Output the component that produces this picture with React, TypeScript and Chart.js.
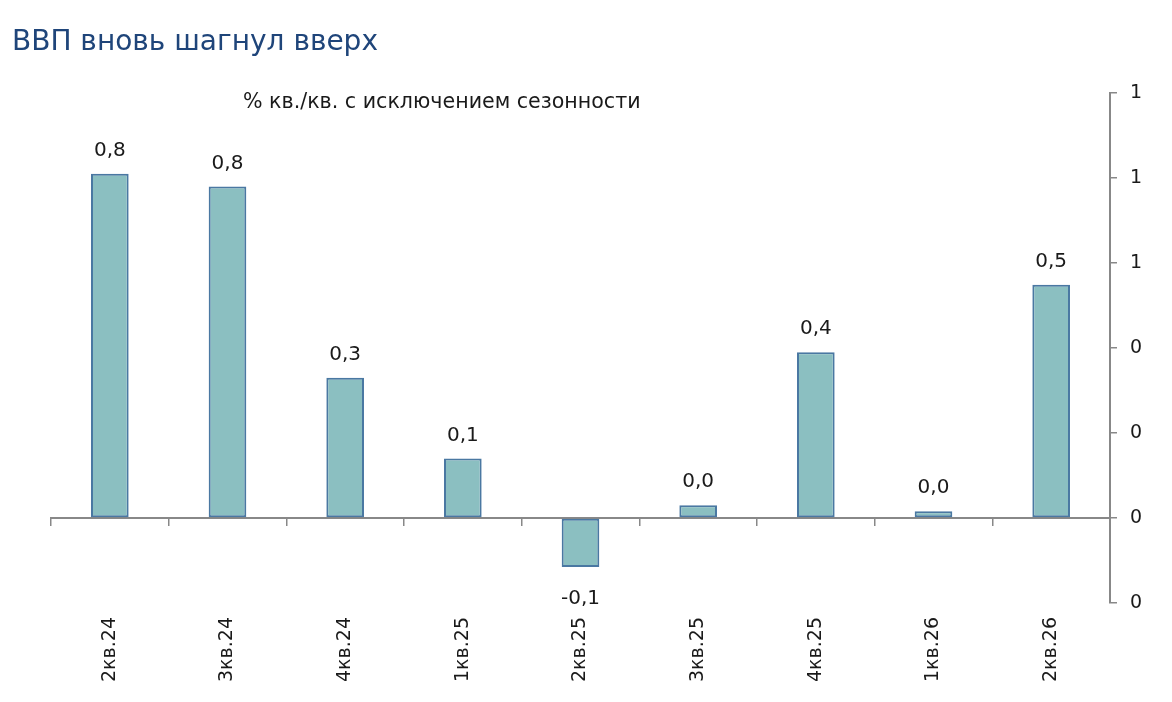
import { useEffect, useRef } from 'react';
import { Chart, registerables } from 'chart.js';

Chart.register(...registerables);

const quarters = ['2кв.24', '3кв.24', '4кв.24', '1кв.25', '2кв.25', '3кв.25', '4кв.25', '1кв.26', '2кв.26'];
const gdpGrowth = [0.81, 0.78, 0.33, 0.14, -0.115, 0.03, 0.39, 0.016, 0.549];
const yTicks = [-0.2, 0, 0.2, 0.4, 0.6, 0.8, 1.0];
const yTickLabels = ['0', '0', '0', '0', '1', '1', '1'];

const title = 'ВВП вновь шагнул вверх';
const subtitle = '% кв./кв. с исключением сезонности';

const FONT = '"DejaVu Sans", sans-serif';
const AXIS_GRAY = '#888888';
const TEXT = '#1a1a1a';

// heading + units line, drawn on the canvas
const headings = {
  id: 'headings',
  afterDraw(chart: Chart) {
    const { ctx, chartArea } = chart;
    ctx.save();
    ctx.textAlign = 'left';
    ctx.textBaseline = 'alphabetic';
    ctx.fillStyle = '#1f457a';
    ctx.font = `28px ${FONT}`;
    ctx.fillText(title, 4, 42);
    ctx.fillStyle = TEXT;
    ctx.font = `20.6px ${FONT}`;
    ctx.fillText(subtitle, chartArea.left + 192, chartArea.top + 15);
    ctx.restore();
  },
};

// value labels above (or below) each bar
const valueLabels = {
  id: 'valueLabels',
  afterDatasetsDraw(chart: Chart) {
    const { ctx } = chart;
    const meta = chart.getDatasetMeta(0);
    ctx.save();
    ctx.font = `20px ${FONT}`;
    ctx.fillStyle = TEXT;
    ctx.textAlign = 'center';
    ctx.textBaseline = 'alphabetic';
    meta.data.forEach((bar, i) => {
      const v = gdpGrowth[i];
      const { x, y } = bar.getProps(['x', 'y'], true);
      const ty = v >= 0 ? y - 18 : y + 37;
      ctx.fillText(v.toFixed(1).replace('.', ','), x, ty);
    });
    ctx.restore();
  },
};

export default function App() {
  const canvasRef = useRef<HTMLCanvasElement | null>(null);

  useEffect(() => {
    if (!canvasRef.current) return;

    const chart = new Chart(canvasRef.current, {
      type: 'bar',
      data: {
        labels: quarters,
        datasets: [
          {
            data: gdpGrowth,
            backgroundColor: '#8bbfc1',
            borderColor: '#4a78a2',
            borderWidth: 2,
            borderSkipped: false,
            barPercentage: 0.32,
            categoryPercentage: 1,
          },
        ],
      },
      options: {
        animation: false,
        responsive: true,
        maintainAspectRatio: false,
        layout: { padding: { left: 43, top: 85, right: 0, bottom: 0 } },
        plugins: {
          legend: { display: false },
          tooltip: { enabled: false },
        },
        scales: {
          x: {
            position: 'bottom',
            grid: { display: false, drawTicks: false },
            border: { display: false },
            ticks: {
              autoSkip: false,
              minRotation: 90,
              maxRotation: 90,
              padding: 14,
              color: TEXT,
              font: { family: FONT, size: 19 },
            },
            afterFit: (scale) => {
              scale.height = 91;
            },
          },
          // zero line with category separators
          x0: {
            type: 'category',
            position: { y: 0 },
            offset: true,
            grid: {
              offset: true,
              drawOnChartArea: false,
              drawTicks: true,
              tickLength: 7,
              color: AXIS_GRAY,
              lineWidth: 1.5,
            },
            border: { display: true, color: AXIS_GRAY, width: 2 },
            ticks: { display: false },
          },
          y: {
            position: 'right',
            min: -0.2,
            max: 1.0,
            afterBuildTicks: (scale) => {
              scale.ticks = yTicks.map((value) => ({ value }));
            },
            grid: {
              drawOnChartArea: false,
              drawTicks: true,
              tickLength: 7,
              color: AXIS_GRAY,
              lineWidth: 1.5,
            },
            border: { display: true, color: AXIS_GRAY, width: 2 },
            ticks: {
              padding: 13,
              color: TEXT,
              font: { family: FONT, size: 19 },
              callback: (_value, index) => yTickLabels[index],
            },
            afterFit: (scale) => {
              scale.width = 54;
            },
          },
        },
      },
      plugins: [valueLabels, headings],
    });

    return () => chart.destroy();
  }, []);

  return (
    <div style={{ position: 'relative', width: 1156, height: 686 }}>
      <canvas ref={canvasRef} />
    </div>
  );
}
